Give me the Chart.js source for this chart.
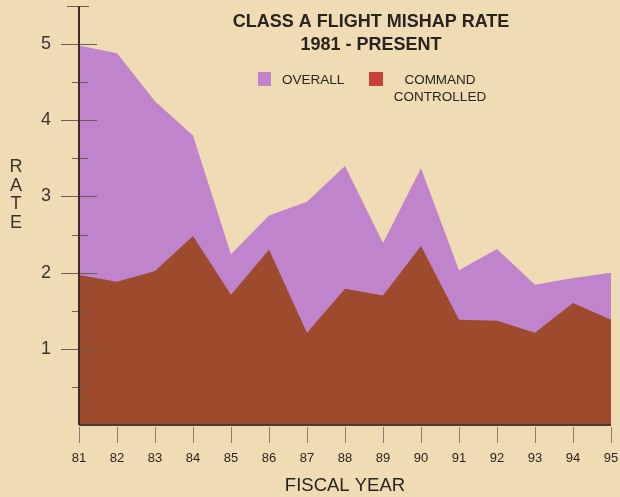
<!DOCTYPE html>
<html>
<head>
<meta charset="utf-8">
<script src="https://cdn.jsdelivr.net/npm/chart.js@4"></script>
<style>
  html, body { margin: 0; padding: 0; background: #f0dcb4; }
  #wrap { width: 620px; height: 497px; }
</style>
</head>
<body>
<div id="wrap"><canvas id="myChart" width="620" height="497"></canvas></div>
<script>
// fiscal years
const years = ['81', '82', '83', '84', '85', '86', '87', '88', '89', '90', '91', '92', '93', '94', '95'];
// Class A rates per year
const overall = [4.98, 4.88, 4.25, 3.8, 2.24, 2.75, 2.93, 3.4, 2.39, 3.37, 2.03, 2.31, 1.84, 1.93, 2.0];
const commandControlled = [1.97, 1.88, 2.02, 2.48, 1.71, 2.3, 1.21, 1.79, 1.7, 2.35, 1.38, 1.37, 1.21, 1.6, 1.38];
const yTickLabels = ['1', '2', '3', '4', '5'];
const titleLines = ['CLASS A FLIGHT MISHAP RATE', '1981 - PRESENT'];
const legendLabels = ['OVERALL', 'COMMAND', 'CONTROLLED'];

const bg = '#f0dcb4';
const purple = '#c084cc';
const brown = '#9e4a2c';
const ink = '#2a2420';
const fam = '"Liberation Sans", Arial, sans-serif';

// extra drawing: title, legend, axis ticks, stacked RATE label
const decor = {
    id: 'decor',
    beforeDraw(chart) {
        const c = chart.ctx;
        c.save();
        c.fillStyle = bg;
        c.fillRect(0, 0, chart.width, chart.height);
        c.restore();
    },
    afterDraw(chart) {
        const c = chart.ctx;
        const y = chart.scales.y;
        const x = chart.scales.x;
        const ax = chart.chartArea.left;
        c.save();

        // y ticks, major cross the axis, minor are short
        c.strokeStyle = '#6a5e55';
        c.lineWidth = 1;
        for (let v = 0.5; v <= 5.5; v += 0.5) {
            const py = Math.round(y.getPixelForValue(v)) + 0.5;
            let l = 7, r = 9;
            if (Number.isInteger(v)) { l = 18; r = 18; }
            if (v === 5.5) { l = 12; r = 10; }
            c.beginPath();
            c.moveTo(ax - l, py);
            c.lineTo(ax + r, py);
            c.stroke();
        }
        // y axis line
        c.strokeStyle = '#3a302a';
        c.lineWidth = 2;
        c.beginPath();
        c.moveTo(ax, y.getPixelForValue(5.5));
        c.lineTo(ax, y.getPixelForValue(0));
        c.stroke();
        // x axis line and ticks under it
        const by = y.getPixelForValue(0);
        c.strokeStyle = '#4a3a30';
        c.lineWidth = 2;
        c.beginPath();
        c.moveTo(ax, by);
        c.lineTo(chart.chartArea.right, by);
        c.stroke();
        c.strokeStyle = '#8a7c70';
        c.lineWidth = 1;
        years.forEach((yr, i) => {
            const px = Math.round(x.getPixelForValue(i)) + 0.5;
            c.beginPath();
            c.moveTo(px, by + 2);
            c.lineTo(px, by + 18);
            c.stroke();
        });

        // title
        c.fillStyle = ink;
        c.textAlign = 'center';
        c.textBaseline = 'middle';
        c.font = 'bold 18px ' + fam;
        c.fillText(titleLines[0], 371, 22);
        c.fillText(titleLines[1], 371, 45);

        // legend
        c.fillStyle = purple;
        c.fillRect(258, 72, 13, 14);
        c.fillStyle = '#c8423a';
        c.fillRect(369, 72, 14, 14);
        c.fillStyle = ink;
        c.font = '13.5px ' + fam;
        c.textAlign = 'left';
        c.fillText(legendLabels[0], 282, 80);
        c.textAlign = 'center';
        c.fillText(legendLabels[1], 440, 80);
        c.fillText(legendLabels[2], 440, 97);

        // stacked axis title
        c.font = '18px ' + fam;
        c.fillStyle = '#3a3430';
        ['R', 'A', 'T', 'E'].forEach((ch, i) => c.fillText(ch, 16, 167 + i * 18.7));
        c.restore();
    }
};

const data = {
    labels: years,
    datasets: [{
        label: 'COMMAND CONTROLLED',
        data: commandControlled,
        backgroundColor: brown,
        borderColor: brown,
        borderWidth: 0,
        pointRadius: 0,
        fill: 'origin',
        tension: 0
    }, {
        label: 'OVERALL',
        data: overall,
        backgroundColor: purple,
        borderColor: purple,
        borderWidth: 0,
        pointRadius: 0,
        fill: 'origin',
        tension: 0
    }]
};

const config = {
    type: 'line',
    data,
    plugins: [decor],
    options: {
        responsive: false,
        animation: false,
        layout: { padding: { top: 6, right: 9, left: 0, bottom: 0 } },
        plugins: {
            legend: { display: false },
            title: { display: false },
            tooltip: { enabled: false }
        },
        scales: {
            x: {
                offset: false,
                grid: { display: false, drawTicks: false },
                border: { display: false },
                ticks: {
                    color: ink,
                    padding: 26,
                    maxRotation: 0,
                    autoSkip: false,
                    font: { family: fam, size: 13 }
                },
                title: {
                    display: true,
                    text: 'FISCAL YEAR',
                    color: ink,
                    padding: { top: 0, bottom: 0 },
                    font: { family: fam, size: 18.5 }
                },
                afterFit(scale) {
                    scale.height = 72;
                    scale.paddingLeft = 0;
                    scale.paddingRight = 0;
                }
            },
            y: {
                min: 0,
                max: 5.5,
                grid: { display: false, drawTicks: false },
                border: { display: false },
                ticks: {
                    stepSize: 0.5,
                    padding: 28,
                    color: '#3a3430',
                    font: { family: fam, size: 18 },
                    callback: (v) => yTickLabels.includes(String(v)) ? String(v) : ''
                },
                afterFit(scale) {
                    scale.width = 79;
                    scale.paddingTop = 0;
                    scale.paddingBottom = 0;
                }
            }
        }
    }
};

// render block
const myChart = new Chart(document.getElementById('myChart'), config);
</script>
</body>
</html>
